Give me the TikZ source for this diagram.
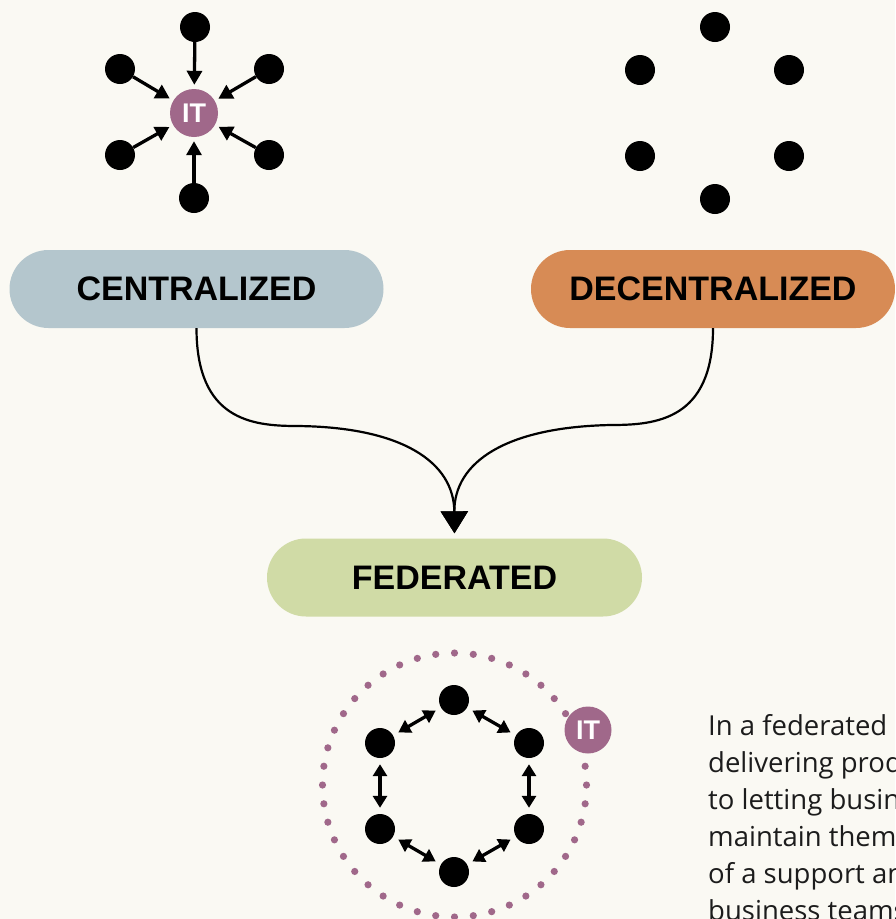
\documentclass[tikz,border=0pt]{standalone}
\usepackage{fontspec}
\setmainfont{Liberation Sans}
\newfontfamily\bodyfont{Open Sans}
\usetikzlibrary{arrows.meta}
\definecolor{bgc}{HTML}{FAF9F3}
\definecolor{pinkc}{HTML}{A0688A}
\definecolor{cenc}{HTML}{B4C6CD}
\definecolor{decc}{HTML}{D78B55}
\definecolor{fedc}{HTML}{D0DBA6}
\definecolor{textc}{HTML}{1C1C1C}
\tikzset{
  dot/.style={circle, fill=black, minimum size=30pt, inner sep=0pt},
  itnode/.style={circle, fill=pinkc, minimum size=48pt, inner sep=0pt, text=white, font=\fontsize{27}{27}\selectfont\bfseries},
  pill/.style={rounded corners=39pt, minimum height=78pt, inner sep=0pt, font=\fontsize{34}{34}\selectfont\bfseries},
  sarrow/.style={line width=3.3pt, -{Triangle[length=14pt,width=15pt]}, shorten >=4pt},
  farrow/.style={line width=3.3pt, {Triangle[length=12pt,width=14pt]}-{Triangle[length=12pt,width=14pt]}, shorten >=6pt, shorten <=6pt},
  curve/.style={line width=2.2pt, -{Triangle[length=22pt,width=27pt]}},
  body/.style={anchor=base west, inner sep=0pt, text=textc, font=\bodyfont\fontsize{27.5}{27.5}\selectfont},
}
\begin{document}
\begin{tikzpicture}[x=1pt, y=-1pt]
\useasboundingbox (0,0) rectangle (895,919);
\clip (0,0) rectangle (895,919);
\fill[bgc] (0,0) rectangle (895,919);

% centralized star
\node[itnode] (it1) at (194,113) {IT};
\node[dot] (c1) at (195,27) {};
\node[dot] (c2) at (120,69) {};
\node[dot] (c3) at (269,69) {};
\node[dot] (c4) at (120,155) {};
\node[dot] (c5) at (269,155) {};
\node[dot] (c6) at (194,198) {};
\foreach \n in {c1,c2,c3,c4,c5,c6} \draw[sarrow] (\n) -- (it1);

% decentralized dots
\node[dot] (d1) at (715,27) {};
\node[dot] (d2) at (640,70) {};
\node[dot] (d3) at (789,70) {};
\node[dot] (d4) at (640,156) {};
\node[dot] (d5) at (789,156) {};
\node[dot] (d6) at (715,199) {};

% pills
\node[pill, fill=cenc, minimum width=374pt] (cen) at (196.5,289) {CENTRALIZED};
\node[pill, fill=decc, minimum width=364pt] (dec) at (713,289) {DECENTRALIZED};
\node[pill, fill=fedc, minimum width=375pt] (fed) at (454.5,577.5) {FEDERATED};

% curves
\draw[curve, shorten >=5pt] (cen.south) .. controls (196.5,420) and (252,426) .. (297,426)
  .. controls (402,427) and (454,462) .. (fed.north);
\draw[curve, shorten >=5pt] (dec.south) .. controls (713,420) and (656,425) .. (611,425)
  .. controls (506,427) and (454,462) .. (fed.north);

% federated ring
\foreach \k in {0,1,4,5,...,43} {
  \fill[pinkc] ({454.5+132*cos(\k*360/44)},{785-132*sin(\k*360/44)}) circle (3.6pt);
}
\node[dot] (f1) at (454,700) {};
\node[dot] (f2) at (380,743) {};
\node[dot] (f3) at (529,743) {};
\node[dot] (f4) at (380,829) {};
\node[dot] (f5) at (529,829) {};
\node[dot] (f6) at (454,872) {};
\draw[farrow] (f1) -- (f2);
\draw[farrow] (f1) -- (f3);
\draw[farrow] (f2) -- (f4);
\draw[farrow] (f3) -- (f5);
\draw[farrow] (f4) -- (f6);
\draw[farrow] (f5) -- (f6);
\node[itnode, minimum size=47pt] (it2) at (588,730) {IT};

% body text (cut off at the right edge, as in the reference)
\node[body] (t1) at (708,735) {In a federated model,};
\node[body] (t2) at (708,772) {delivering products};
\node[body] (t3) at (708,809) {to letting business};
\node[body] (t4) at (708,846) {maintain themselves};
\node[body] (t5) at (708,883) {of a support and};
\node[body] (t6) at (708,920) {business teams};
\end{tikzpicture}
\end{document}
